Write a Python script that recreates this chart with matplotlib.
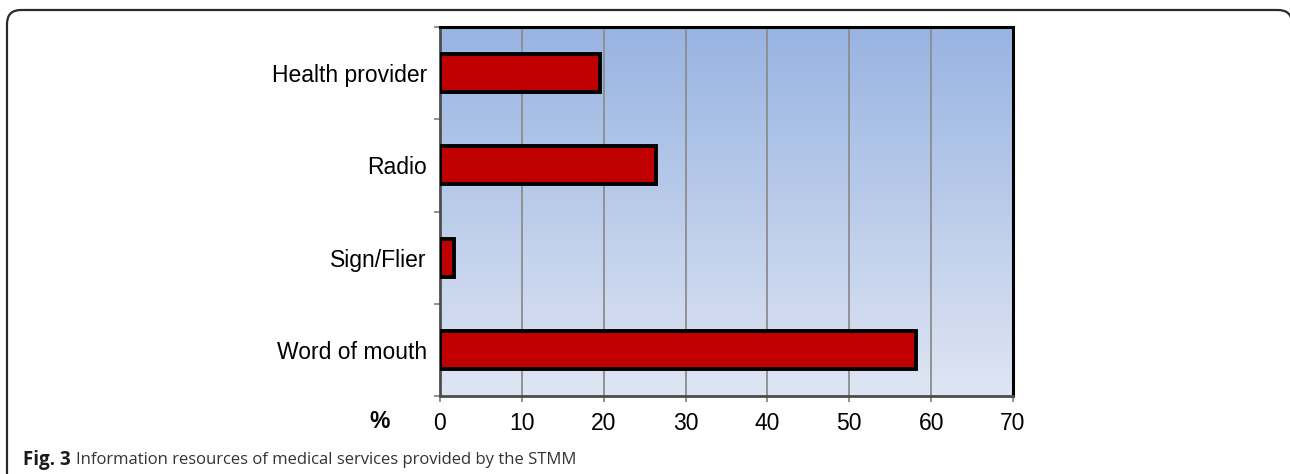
import numpy as np
import matplotlib
matplotlib.use("Agg")
import matplotlib.pyplot as plt
from matplotlib.path import Path
from matplotlib.patches import PathPatch
from matplotlib.transforms import Affine2D
from matplotlib.colors import LinearSegmentedColormap

# Information sources reported by respondents (%)
categories = ["Health provider", "Radio", "Sign/Flier", "Word of mouth"]
percentages = [19.5, 26.4, 1.7, 58.2]
x_ticks = [0, 10, 20, 30, 40, 50, 60, 70]

W, H, DPI = 1290, 474, 100
fig = plt.figure(figsize=(W / DPI, H / DPI), dpi=DPI)

# rounded panel frame in pixel coordinates (y measured from the top)
pix = Affine2D().scale(1 / W, -1 / H).translate(0, 1) + fig.transFigure
x0, x1, y0, r = 7, 1292, 10, 14
verts = [(x0, H + 20), (x0, y0 + r), (x0, y0), (x0 + r, y0),
         (x1 - r, y0), (x1, y0), (x1, y0 + r), (x1, H + 20)]
codes = [Path.MOVETO, Path.LINETO, Path.CURVE3, Path.CURVE3,
         Path.LINETO, Path.CURVE3, Path.CURVE3, Path.LINETO]
fig.patches.append(PathPatch(Path(verts, codes), transform=pix, fill=False,
                             edgecolor="#2a2a2a", linewidth=1.6))

left, right, top, bottom = 440, 1013, 27, 396
ax = fig.add_axes([left / W, 1 - bottom / H, (right - left) / W, (bottom - top) / H])

# vertical gradient background of the plot area
grad = np.linspace(0, 1, 256).reshape(-1, 1)
cmap = LinearSegmentedColormap.from_list("bg", ["#98b4e2", "#dfe5f3"])
ax.imshow(grad, aspect="auto", cmap=cmap, extent=[0, 70, 3.5, -0.5],
          zorder=0, interpolation="bicubic")

y = np.arange(len(categories))
ax.barh(y, percentages, height=0.41, color="#c00000", edgecolor="black",
        linewidth=2.8, zorder=3)

ax.set_xlim(0, 70)
ax.set_ylim(3.5, -0.5)

ax.set_xticks(x_ticks)
ax.set_xticklabels([str(t) for t in x_ticks])
ax.grid(axis="x", color="#8c8c8c", linewidth=1.3, zorder=1)
ax.set_axisbelow(True)

ax.set_yticks(y)
ax.set_yticklabels(categories)
ax.set_yticks(np.arange(-0.5, 4.0, 1.0), minor=True)

ax.tick_params(axis="y", which="major", length=0, pad=9.5,
               labelsize=16.5, labelcolor="black")
ax.tick_params(axis="y", which="minor", length=4.5, width=1.2,
               color="#7f7f7f", direction="out")
ax.tick_params(axis="x", which="major", length=4.5, width=1.2,
               color="#7f7f7f", pad=7, labelsize=16.5, labelcolor="black")

for name in ["top", "right"]:
    ax.spines[name].set_color("black")
    ax.spines[name].set_linewidth(2.2)
for name in ["left", "bottom"]:
    ax.spines[name].set_color("#4d4d4d")
    ax.spines[name].set_linewidth(2.0)

for lbl in ax.get_xticklabels() + ax.get_yticklabels():
    lbl.set_fontfamily("Liberation Sans")

fig.text(380 / W, 1 - 421 / H, "%", fontsize=16.5, fontweight="bold",
         family="Liberation Sans", ha="center", va="center")

# caption
cap_y = 1 - 460 / H
t1 = fig.text(23 / W, cap_y, "Fig. 3", fontsize=13.5, fontweight="bold",
              family="Open Sans", color="#1a1a1a", va="center", ha="left")
fig.canvas.draw()
bb = t1.get_window_extent()
fig.text((bb.x1 + 5) / W, cap_y,
         "Information resources of medical services provided by the STMM",
         fontsize=12.0, family="Open Sans", color="#333333",
         va="center", ha="left")

fig.savefig("out.png", dpi=DPI)
